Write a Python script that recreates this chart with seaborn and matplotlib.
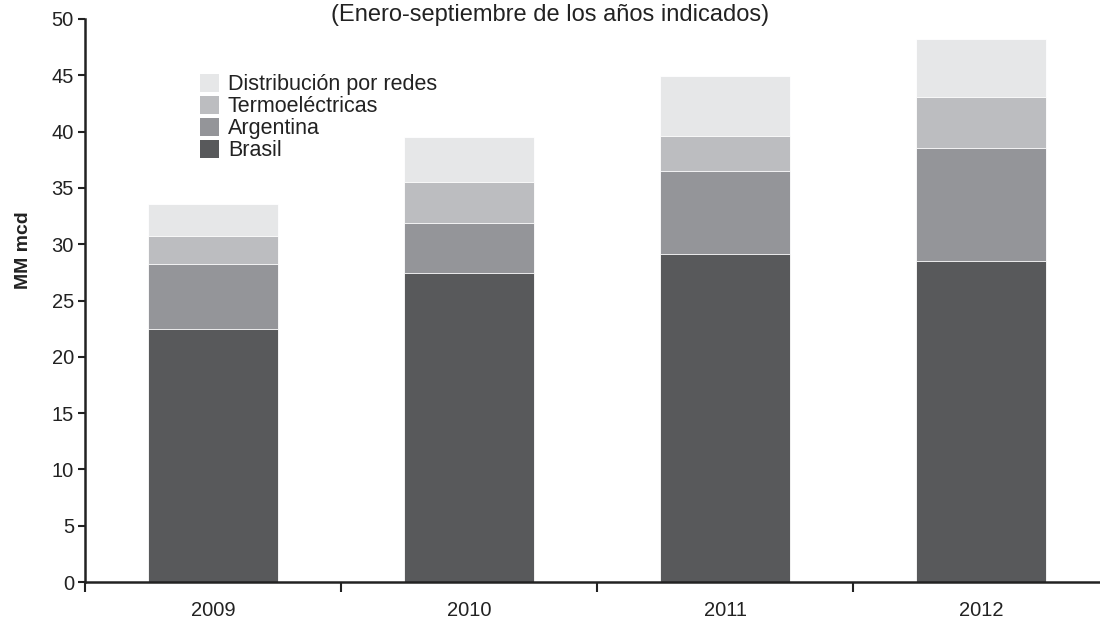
import numpy as np
import pandas as pd
import matplotlib
matplotlib.use("Agg")
import matplotlib.pyplot as plt
import seaborn as sns
from matplotlib.patches import Patch

years = ["2009", "2010", "2011", "2012"]
brasil = [22.5, 27.4, 29.1, 28.5]
argentina = [5.7, 4.5, 7.4, 10.0]
termo = [2.5, 3.6, 3.1, 4.6]
redes = [2.9, 4.0, 5.3, 5.1]

series_names = ["Brasil", "Argentina", "Termoeléctricas", "Distribución por redes"]
series_vals = [brasil, argentina, termo, redes]
colors = ["#58595b", "#949599", "#bcbdc0", "#e6e7e8"]

sns.set_style("ticks")
plt.rcParams["font.family"] = ["Liberation Sans", "DejaVu Sans"]

df = pd.DataFrame({"year": years})
cum = np.zeros(len(years))
for name, vals in zip(series_names, series_vals):
    cum = cum + np.array(vals)
    df[name] = cum

fig = plt.figure(figsize=(11, 6.2), dpi=100)
ax = fig.add_axes([85 / 1100, 1 - 582 / 620, 1024 / 1100, 563 / 620])

# draw cumulative totals from the tallest layer down
for name, col in reversed(list(zip(series_names, colors))):
    sns.barplot(data=df, x="year", y=name, color=col, saturation=1,
                width=0.51, ax=ax, edgecolor="white", linewidth=0.6)

ax.set_xlim(-0.5, 3.5)
ax.set_ylim(0, 50)
ax.set_yticks(np.arange(0, 51, 5))
ax.set_xlabel("")
ax.set_ylabel("")
ax.tick_params(axis="y", labelsize=14.5, length=5, width=1.5, color="#222222",
               labelcolor="#222222", pad=3)
ax.tick_params(axis="x", which="major", labelsize=14.5, length=0, pad=14,
               labelcolor="#222222")
ax.set_xticks([-0.5, 0.5, 1.5, 2.5], minor=True)
ax.tick_params(axis="x", which="minor", length=7, width=1.5, color="#222222")
for s in ["top", "right"]:
    ax.spines[s].set_visible(False)
for s in ["left", "bottom"]:
    ax.spines[s].set_linewidth(1.8)
    ax.spines[s].set_color("#222222")

fig.text(24 / 1100, 1 - 250 / 620, "MM mcd", rotation=90, ha="center",
         va="center", fontsize=14, fontweight="bold", color="#222222")

handles = [Patch(facecolor=c, edgecolor="none") for c in colors]
ax.legend(handles[::-1], series_names[::-1], loc="upper left",
          bbox_to_anchor=((200 - 85) / 1024, (582 - 74) / 563), frameon=False,
          fontsize=15.5, handlelength=0.9, handleheight=0.9, handletextpad=0.4,
          labelspacing=0.03, borderaxespad=0, borderpad=0,
          labelcolor="#222222")

fig.text(0.5, 1 - 21 / 620, "(Enero-septiembre de los años indicados)",
         ha="center", va="baseline", fontsize=17, color="#222222")

fig.savefig("out.png", dpi=100)
